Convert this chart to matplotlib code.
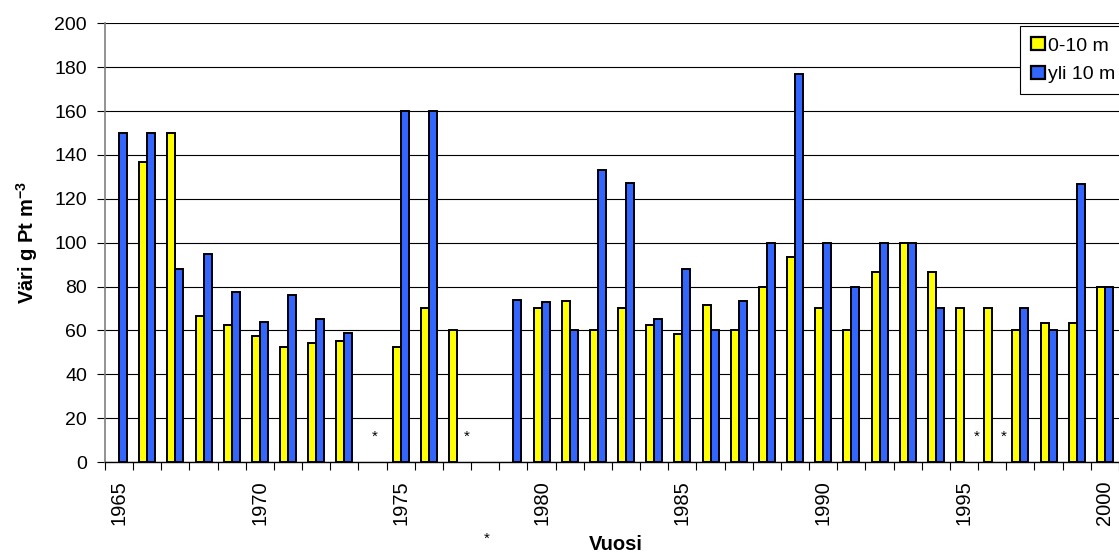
import numpy as np
import matplotlib
matplotlib.use('Agg')
import matplotlib.pyplot as plt
from matplotlib.transforms import blended_transform_factory

plt.rcParams['font.family'] = ['Liberation Sans', 'DejaVu Sans']
plt.rcParams['mathtext.fontset'] = 'custom'
plt.rcParams['mathtext.rm'] = 'Liberation Sans'
plt.rcParams['mathtext.bf'] = 'Liberation Sans:bold'

# Data
years = list(range(1965, 2001))
nan = np.nan
shallow = [nan, 136.7, 150, 66.7, 62.5, 57.5, 52.6, 54.3, 55, nan,
           52.6, 70, 60, nan, nan, 70, 73.3, 60, 70, 62.5,
           58.5, 71.7, 60, 80, 93.3, 70, 60, 86.7, 100, 86.7,
           70, 70, 60, 63.3, 63.3, 80]
deep = [150, 150, 88, 95, 77.5, 64, 76, 65, 59, nan,
        160, 160, nan, nan, 74, 73, 60, 133.3, 127, 65,
        88, 60, 73.3, 100, 176.7, 100, 80, 100, 100, 70,
        nan, nan, 70, 60, 126.7, 80]
series_labels = ['0-10 m', 'yli 10 m']
star_years = [1974, 1977, 1995, 1996]
star_offsets = [0.07, 0.34, 0.45, 0.41]
label_years = [1965, 1970, 1975, 1980, 1985, 1990, 1995, 2000]

fig = plt.figure(figsize=(11.19, 5.52), dpi=100)
ax = fig.add_axes([0.0938, 0.163, 0.9062, 0.7947])

x = np.arange(len(years))
w = 0.285
ax.bar(x - w / 2, shallow, w, color='#FFFF00', edgecolor='black', linewidth=1.4,
       label=series_labels[0], zorder=3)
ax.bar(x + w / 2, deep, w, color='#3366FF', edgecolor='black', linewidth=1.4,
       label=series_labels[1], zorder=3)

ax.set_xlim(-0.5, 35.17)
ax.set_ylim(0, 200)
ax.set_yticks(range(0, 201, 20))
ax.yaxis.grid(True, color='black', linewidth=0.8)
ax.set_axisbelow(True)

# ticks at category boundaries, labels every 5 years
ax.set_xticks(np.arange(-0.5, len(years), 1.0))
ax.set_xticklabels([])
ax.set_xticks([years.index(y) for y in label_years], minor=True)
ax.set_xticklabels([str(y) for y in label_years], minor=True, rotation=90)
ax.tick_params(axis='x', which='major', length=6, width=0.8, direction='out')
ax.tick_params(axis='x', which='minor', length=0, pad=13, labelsize=14.5)
ax.tick_params(axis='y', length=6, width=0.8, labelsize=14, pad=7)

for s in ['top', 'right']:
    ax.spines[s].set_visible(False)
ax.spines['left'].set_color('#808080')
ax.spines['left'].set_linewidth(1.2)
ax.spines['bottom'].set_linewidth(1.0)

for yr, off in zip(star_years, star_offsets):
    ax.text(years.index(yr) + off, 11.5, '*', ha='center', va='center', fontsize=11)
trans = blended_transform_factory(ax.transData, ax.transAxes)
ax.text(years.index(1978) + 0.04, -0.176, '*', ha='center', va='center',
        fontsize=11, transform=trans, clip_on=False)

ax.set_xlabel('Vuosi', fontsize=14.5, fontweight='bold')
ax.xaxis.set_label_coords(0.504, -0.166)
ax.set_ylabel(r'Väri g Pt m$^{\mathbf{-3}}$', fontsize=14.5, fontweight='bold')
ax.yaxis.set_label_coords(-0.064, 0.5)

leg = fig.legend(loc='upper left', bbox_to_anchor=(0.9115, 0.952), fontsize=14,
                 handlelength=0.75, handleheight=0.65, handletextpad=0.15,
                 borderpad=0.55, labelspacing=0.6, fancybox=False,
                 edgecolor='black', framealpha=1, borderaxespad=0)
leg.get_frame().set_linewidth(0.8)
for p in leg.get_patches():
    p.set_linewidth(1.6)

fig.savefig('out.png', dpi=100)
